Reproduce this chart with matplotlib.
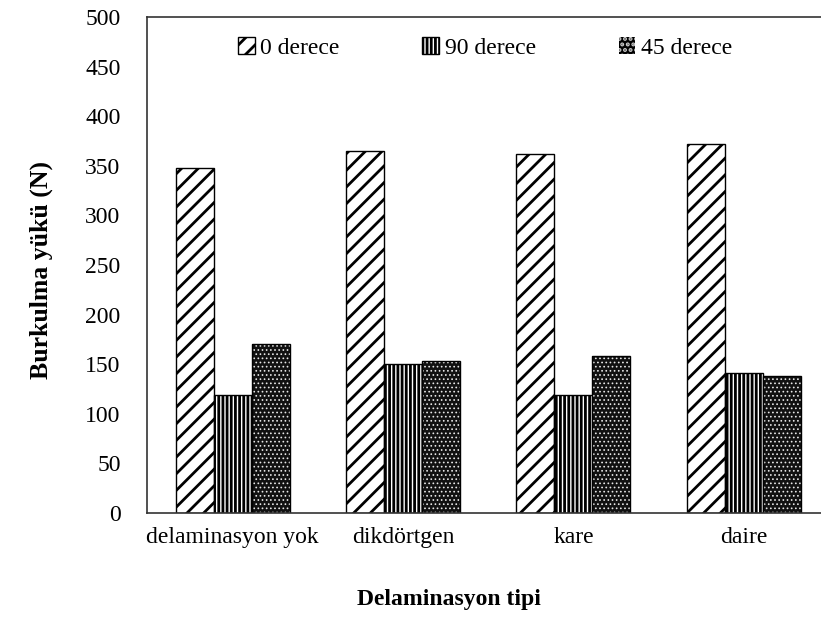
import numpy as np
import matplotlib
matplotlib.use("Agg")
import matplotlib.pyplot as plt
from matplotlib.patches import Patch

# Daten aus dem Diagramm
kategorien = ["delaminasyon yok", "dikdörtgen", "kare", "daire"]
serien = ["0 derece", "90 derece", "45 derece"]
werte_0 = [348, 365, 362, 372]
werte_90 = [119, 150, 119, 141]
werte_45 = [170, 153, 158, 138]

plt.rcParams["font.family"] = ["Liberation Serif", "DejaVu Serif"]
plt.rcParams["hatch.linewidth"] = 2.0

fig = plt.figure(figsize=(8.21, 6.19), dpi=100)
# Achse ragt rechts leicht ueber den Bildrand hinaus (wie im Original)
ax = fig.add_axes([147 / 821, 1 - 513 / 619, 682 / 821, 496 / 619])

x = np.arange(len(kategorien))
w = 0.223

ax.bar(x - w, werte_0, w, facecolor="white", edgecolor="black", hatch="//", linewidth=1.0)
ax.bar(x, werte_90, w, facecolor="white", edgecolor="black", hatch="||||", linewidth=1.0)
# 45 derece: dunkles Muster mit kleinen hellen Punkten, Rahmen separat
with plt.rc_context({"hatch.linewidth": 0.7}):
    ax.bar(x + w, werte_45, w, facecolor="#111111", edgecolor="#e6e6e6", hatch="....", linewidth=0)
ax.bar(x + w, werte_45, w, facecolor="none", edgecolor="black", linewidth=1.0)

ax.set_xlim(-0.503, 3.5)
ax.set_ylim(0, 500)
ax.set_yticks(np.arange(0, 501, 50))
ax.set_xticks(x)
ax.set_xticklabels(kategorien)
ax.tick_params(axis="both", length=0, labelsize=17)
ax.tick_params(axis="y", pad=19)
ax.tick_params(axis="x", pad=10)

for s in ["left", "top", "bottom"]:
    ax.spines[s].set_color("#333333")
    ax.spines[s].set_linewidth(1.2)
ax.spines["right"].set_visible(False)

ax.set_ylabel("Burkulma yükü (N)", fontsize=18.5, fontweight="bold")
ax.yaxis.set_label_coords(-0.138, 0.49)
ax.set_xlabel("Delaminasyon tipi", fontsize=17, fontweight="bold")
ax.xaxis.set_label_coords(0.443, -0.153)

with plt.rc_context({"hatch.linewidth": 0.7}):
    h45 = Patch(facecolor="black", edgecolor="#cccccc", hatch="...", linewidth=0)
handles = [
    Patch(facecolor="white", edgecolor="black", hatch="//"),
    Patch(facecolor="white", edgecolor="black", hatch="||||"),
    h45,
]
fig.legend(handles, serien, loc="center left", bbox_to_anchor=(238 / 821, 1 - 48 / 619),
           ncol=3, frameon=False, fontsize=17, handlelength=0.7, handleheight=0.7,
           handletextpad=0.25, columnspacing=3.5, borderpad=0, borderaxespad=0)

fig.savefig("out.png", dpi=100)
